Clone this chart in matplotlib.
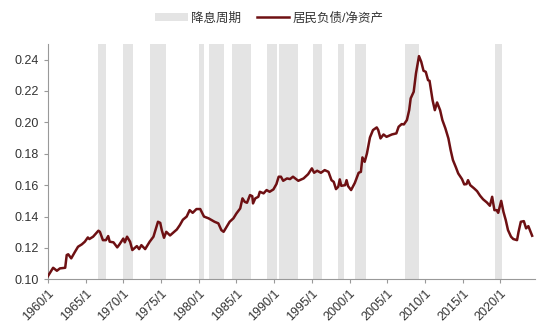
import matplotlib
matplotlib.use("Agg")
import matplotlib.pyplot as plt
from matplotlib.patches import Patch
from matplotlib.lines import Line2D

plt.rcParams['font.family'] = ['Liberation Sans', 'Noto Sans CJK SC', 'DejaVu Sans']

# Household liabilities / net worth (decimal year, ratio)
years = [
    1960.0, 1960.7, 1961.2, 1961.6, 1962.3, 1962.5, 1962.7, 1963.1, 1963.6, 1964.0,
    1964.5, 1964.9, 1965.3, 1965.5, 1966.0, 1966.7, 1966.9, 1967.3, 1967.7, 1968.0,
    1968.2, 1968.7, 1969.2, 1969.5, 1970.0, 1970.2, 1970.5, 1970.9, 1971.2, 1971.8,
    1972.1, 1972.4, 1972.9, 1973.5, 1974.0, 1974.3, 1974.6, 1974.9, 1975.1, 1975.4,
    1975.7, 1976.2, 1976.6, 1977.1, 1977.5, 1977.9, 1978.4, 1978.8, 1979.2, 1979.7,
    1980.2, 1980.7, 1981.3, 1981.7, 1982.1, 1982.6, 1983.0, 1983.3, 1983.7, 1984.1,
    1984.6, 1985.0, 1985.5, 1985.8, 1986.1, 1986.4, 1986.8, 1987.1, 1987.2, 1987.5,
    1987.9, 1988.1, 1988.6, 1989.0, 1989.4, 1989.9, 1990.3, 1990.6, 1990.9, 1991.2,
    1991.7, 1992.1, 1992.5, 1993.2, 1993.9, 1994.5, 1995.0, 1995.3, 1995.7, 1996.2,
    1996.7, 1997.2, 1997.6, 1997.9, 1998.2, 1998.5, 1998.7, 1998.9, 1999.4, 1999.6,
    1999.8, 2000.2, 2000.7, 2001.2, 2001.5, 2001.7, 2002.0, 2002.3, 2002.7, 2003.1,
    2003.6, 2003.8, 2004.1, 2004.5, 2004.9, 2005.6, 2006.2, 2006.5, 2006.9, 2007.2,
    2007.6, 2007.9, 2008.1, 2008.5, 2008.8, 2009.2, 2009.5, 2009.8, 2010.1, 2010.4,
    2010.6, 2011.0, 2011.3, 2011.6, 2012.0, 2012.3, 2012.7, 2013.1, 2013.4, 2013.7,
    2014.1, 2014.4, 2014.9, 2015.2, 2015.5, 2015.7, 2016.0, 2016.5, 2016.9, 2017.3,
    2017.7, 2018.2, 2018.6, 2018.9, 2019.2, 2019.5, 2019.7, 2019.9, 2020.1, 2020.4,
    2020.7, 2021.0, 2021.4, 2021.7, 2022.2, 2022.4, 2022.7, 2023.1, 2023.4, 2023.7,
    2023.9, 2024.2,
]
ratio = [
    0.102, 0.1074, 0.1055, 0.107, 0.1074, 0.1155, 0.116, 0.1134, 0.1176, 0.1208,
    0.1223, 0.124, 0.1267, 0.1257, 0.1272, 0.131, 0.1303, 0.125, 0.125, 0.1276,
    0.124, 0.1236, 0.1204, 0.1223, 0.126, 0.1236, 0.1272, 0.124, 0.1187, 0.1212,
    0.1193, 0.1218, 0.1193, 0.124, 0.1272, 0.132, 0.1367, 0.136, 0.1314, 0.1265,
    0.1303, 0.128, 0.1297, 0.1318, 0.1346, 0.138, 0.140, 0.1441, 0.1424, 0.1448,
    0.1448, 0.140, 0.1389, 0.1378, 0.1367, 0.1357, 0.1314, 0.1303, 0.1335, 0.1367,
    0.1389, 0.142, 0.1452, 0.1516, 0.1494, 0.1488, 0.1537, 0.153, 0.1484, 0.1516,
    0.1526, 0.1558, 0.1548, 0.1569, 0.1558, 0.1573, 0.1607, 0.1654, 0.1654, 0.1628,
    0.1643, 0.1639, 0.1654, 0.1628, 0.1643, 0.167, 0.1707, 0.1679, 0.1692, 0.1679,
    0.1696, 0.1685, 0.1632, 0.1621, 0.1575, 0.159, 0.1637, 0.1596, 0.160, 0.1632,
    0.1594, 0.1569, 0.1615, 0.1679, 0.1685, 0.1777, 0.1749, 0.1802, 0.1904, 0.1951,
    0.1968, 0.1951, 0.1898, 0.1923, 0.1908, 0.1923, 0.193, 0.1972, 0.1989, 0.1987,
    0.2015, 0.2078, 0.2153, 0.2195, 0.2312, 0.2422, 0.2386, 0.2329, 0.2322, 0.2269,
    0.2265, 0.2142, 0.2078, 0.2127, 0.2078, 0.2015, 0.1962, 0.1898, 0.1823, 0.176,
    0.1713, 0.1675, 0.1639, 0.1605, 0.1607, 0.1632, 0.160, 0.158, 0.1562, 0.1533,
    0.151, 0.149, 0.1469, 0.1526, 0.1441, 0.1441, 0.1424, 0.1463, 0.150, 0.143,
    0.1378, 0.1314, 0.1272, 0.1257, 0.125, 0.1303, 0.1367, 0.1371, 0.1325, 0.1339,
    0.1314, 0.1278,
]

# Rate-cut cycles (start, end)
cut_start = [1966.6, 1969.9, 1973.5, 1980.1, 1981.3, 1984.4, 1989.1, 1990.6,
             1995.2, 1998.5, 2000.7, 2007.3, 2019.3]
cut_end = [1967.7, 1971.3, 1975.6, 1980.7, 1983.3, 1986.9, 1990.4, 1993.1,
           1996.3, 1999.2, 2002.2, 2009.2, 2020.2]

tick_years = list(range(1960, 2021, 5))
tick_labels = [f"{y}/1" for y in tick_years]

line_color = "#6e1013"
band_color = "#e4e4e4"
text_color = "#333333"

fig = plt.figure(figsize=(5.5, 3.35), dpi=100)
ax = fig.add_axes([0.087, 0.166, 0.886, 0.703])

for s, e in zip(cut_start, cut_end):
    ax.axvspan(s, e, color=band_color, lw=0, zorder=1)

ax.plot(years, ratio, color=line_color, lw=1.8, zorder=3)

ax.set_xlim(1960, 2024.6)
ax.set_ylim(0.10, 0.25)
ax.set_yticks([0.10, 0.12, 0.14, 0.16, 0.18, 0.20, 0.22, 0.24])
ax.set_yticklabels([f"{v:.2f}" for v in ax.get_yticks()])
ax.set_xticks(tick_years)
ax.set_xticklabels(tick_labels, rotation=45, ha="right", rotation_mode="anchor")

for side in ("top", "right"):
    ax.spines[side].set_visible(False)
for side in ("left", "bottom"):
    ax.spines[side].set_color("#999999")
    ax.spines[side].set_linewidth(0.8)
ax.tick_params(axis="both", colors="#999999", labelcolor=text_color,
               labelsize=9, length=3, width=0.8, direction="out")
ax.tick_params(axis="x", pad=3)

handles = [
    Patch(facecolor=band_color, edgecolor="none"),
    Line2D([0], [0], color=line_color, lw=1.8),
]
fig.legend(handles, ["降息周期", "居民负债/净资产"], loc="center",
           bbox_to_anchor=(0.49, 0.945), ncol=2, frameon=False,
           fontsize=9, handlelength=2.6, handleheight=0.6, columnspacing=1.2,
           handletextpad=0.3, labelcolor=text_color)

fig.savefig("out.png", dpi=100)
